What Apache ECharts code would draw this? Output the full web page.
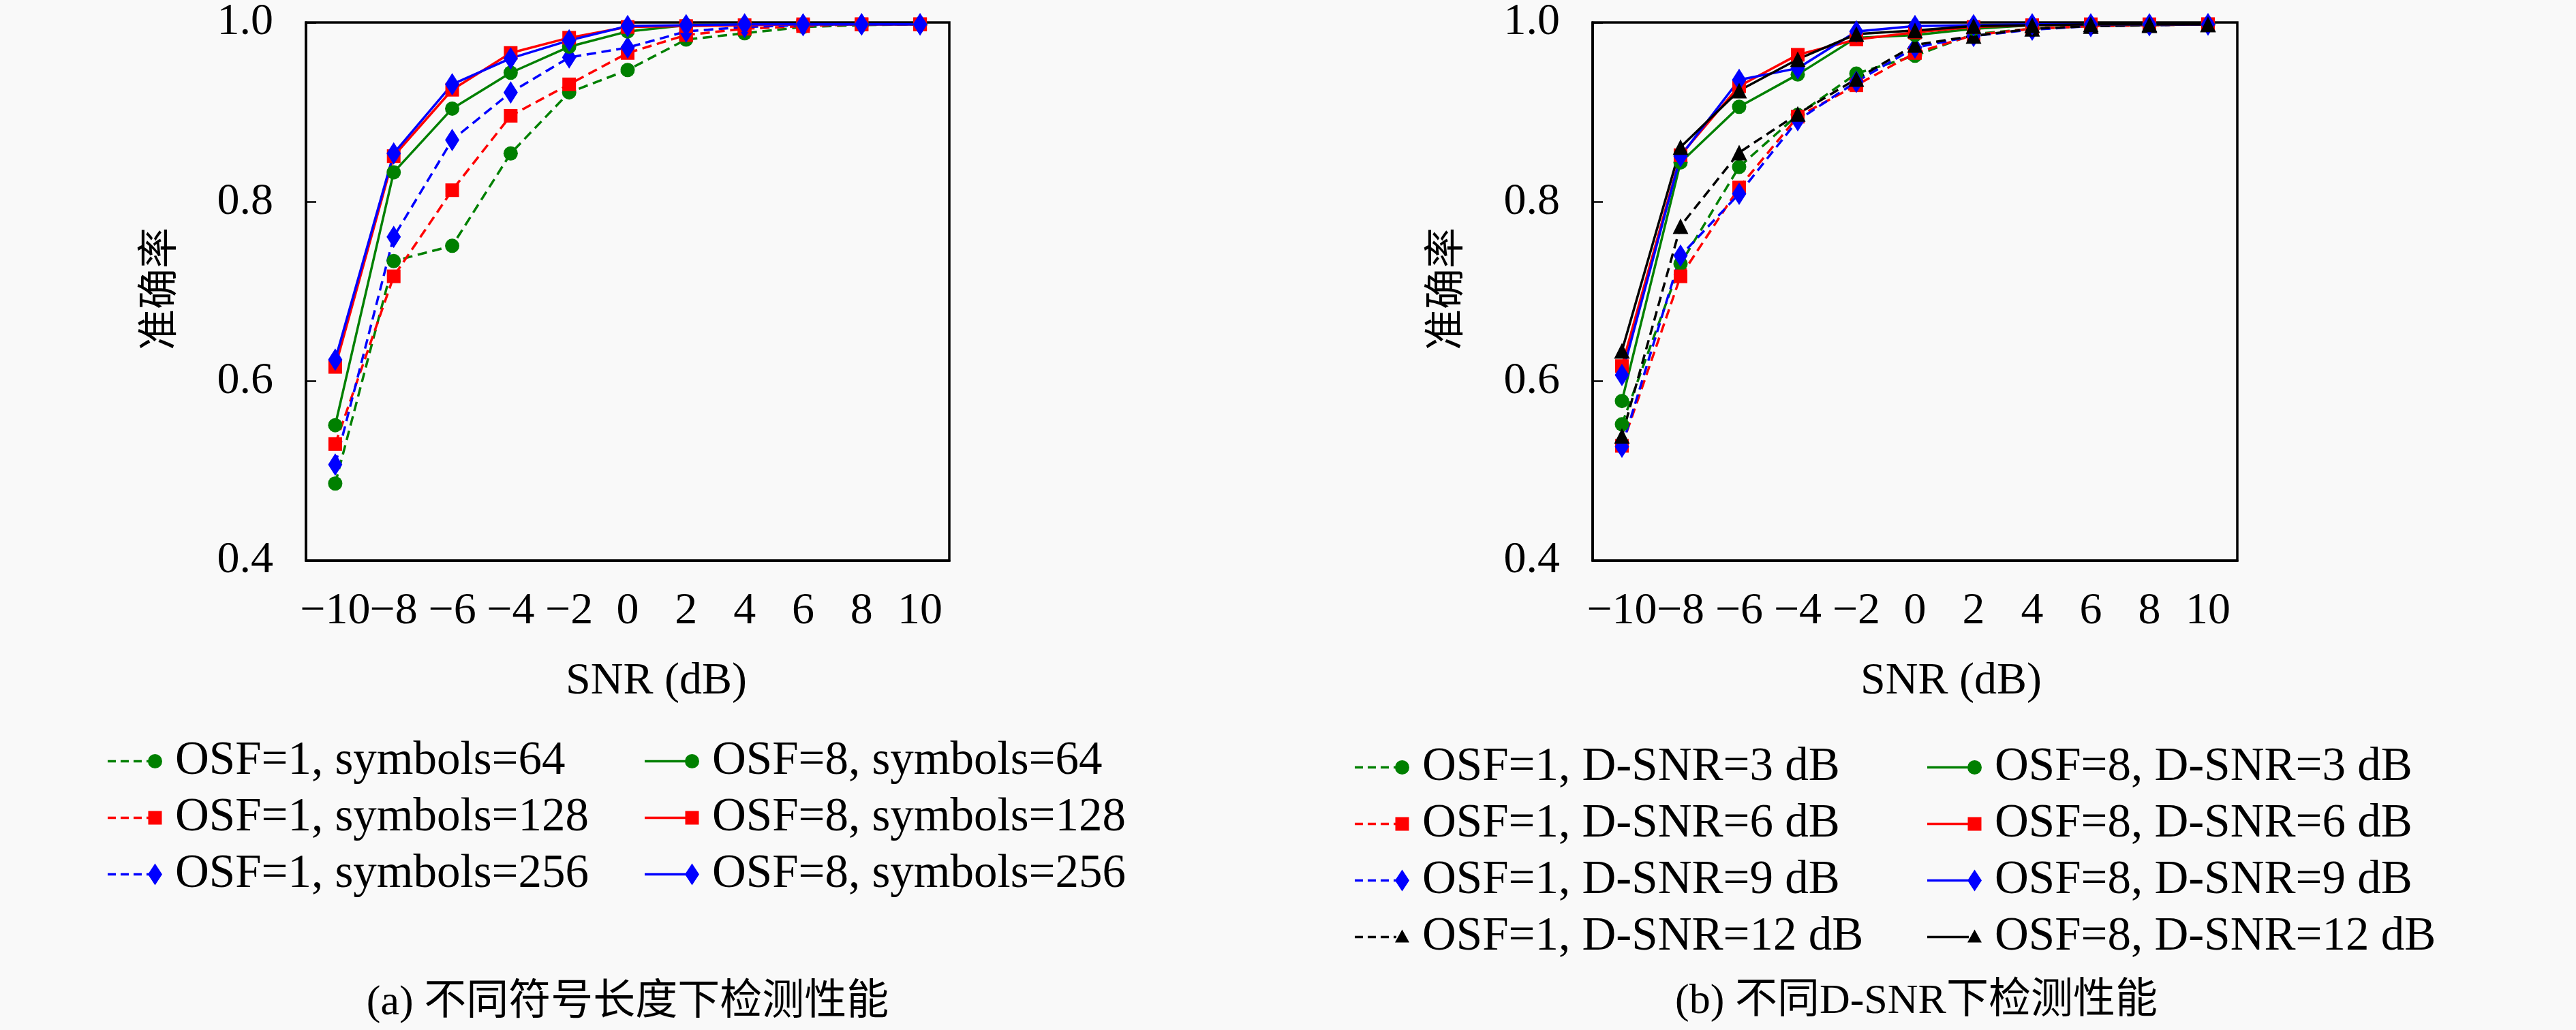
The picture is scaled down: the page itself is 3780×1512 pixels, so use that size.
<!DOCTYPE html>
<html>
<head>
<meta charset="utf-8">
<script src="https://cdn.jsdelivr.net/npm/echarts@6/dist/echarts.min.js"></script>
<style>
  html, body { margin: 0; padding: 0; background: #f9f9f9; }
  #main { width: 3780px; height: 1512px; }
</style>
</head>
<body>
<div id="main"></div>
<script>
//横轴 SNR 刻度
var snrLabels = ['\u221210', '\u22128', '\u22126', '\u22124', '\u22122', '0', '2', '4', '6', '8', '10'];
var yTicks = [0.4, 0.6, 0.8, 1.0];

//(a) 不同符号长度
var a_osf1_64  = [0.486, 0.734, 0.751, 0.854, 0.922, 0.947, 0.981, 0.988, 0.995, 0.997, 0.998];
var a_osf1_128 = [0.530, 0.717, 0.813, 0.896, 0.931, 0.966, 0.986, 0.993, 0.996, 0.998, 0.998];
var a_osf1_256 = [0.507, 0.761, 0.869, 0.922, 0.961, 0.972, 0.990, 0.995, 0.997, 0.998, 0.998];
var a_osf8_64  = [0.551, 0.833, 0.904, 0.944, 0.973, 0.990, 0.997, 0.998, 0.998, 0.998, 0.998];
var a_osf8_128 = [0.616, 0.851, 0.925, 0.966, 0.983, 0.995, 0.996, 0.997, 0.998, 0.998, 0.998];
var a_osf8_256 = [0.624, 0.854, 0.931, 0.960, 0.980, 0.996, 0.997, 0.998, 0.998, 0.998, 0.998];

//(b) 不同 D-SNR
var b_osf1_3  = [0.552, 0.731, 0.839, 0.897, 0.943, 0.963, 0.987, 0.993, 0.996, 0.997, 0.998];
var b_osf1_6  = [0.528, 0.717, 0.816, 0.895, 0.930, 0.966, 0.986, 0.993, 0.996, 0.997, 0.998];
var b_osf1_9  = [0.527, 0.740, 0.809, 0.891, 0.934, 0.972, 0.985, 0.992, 0.996, 0.997, 0.998];
var b_osf1_12 = [0.539, 0.773, 0.855, 0.898, 0.937, 0.975, 0.985, 0.993, 0.996, 0.997, 0.998];
var b_osf8_3  = [0.578, 0.844, 0.906, 0.942, 0.983, 0.986, 0.993, 0.997, 0.998, 0.998, 0.998];
var b_osf8_6  = [0.617, 0.852, 0.929, 0.964, 0.981, 0.989, 0.995, 0.997, 0.998, 0.998, 0.998];
var b_osf8_9  = [0.607, 0.851, 0.936, 0.949, 0.990, 0.996, 0.997, 0.998, 0.998, 0.998, 0.998];
var b_osf8_12 = [0.634, 0.861, 0.924, 0.959, 0.987, 0.991, 0.996, 0.997, 0.998, 0.998, 0.998];

var SERIF = '"Liberation Serif", "DejaVu Serif", serif';
var CJK = '"Liberation Serif", "Noto Sans CJK SC", serif';
var FS = 66;
var LFS = 69;
var DASH = [14, 8];

var symbols = {
    circle:   {symbol: 'circle',   size: 21},
    square:   {symbol: 'rect',     size: 20},
    diamond:  {symbol: 'diamond',  size: [21, 33]},
    triangle: {symbol: 'triangle', size: 23}
};

//图例图标: 线段在左, 标记在右端 (80 x 32 的框)
var ICON_BOX = 'M0 0L0 0Z M80 32L80 32Z ';
var ICON_LINE = {
    dashed: 'M0 14.25L12 14.25L12 17.75L0 17.75Z M19 14.25L31 14.25L31 17.75L19 17.75Z M38 14.25L50 14.25L50 17.75L38 17.75Z M57 14.25L61 14.25L61 17.75L57 17.75Z ',
    solid:  'M0 14.25L61 14.25L61 17.75L0 17.75Z '
};
var ICON_MARK = {
    circle:   'M59 16A10.5 10.5 0 1 1 80 16A10.5 10.5 0 1 1 59 16Z',
    square:   'M59.5 6L79.5 6L79.5 26L59.5 26Z',
    diamond:  'M69.5 0L80 16L69.5 32L59 16Z',
    triangle: 'M69.5 5L80 24L59 24Z'
};

function legendIcon(dashed, mark) {
    return 'path://' + ICON_BOX + ICON_LINE[dashed ? 'dashed' : 'solid'] + ICON_MARK[mark];
}

//生成一条曲线
function mkLine(name, data, color, dashed, mark, idx) {
    return {
        name: name,
        type: 'line',
        xAxisIndex: idx,
        yAxisIndex: idx,
        data: data,
        symbol: symbols[mark].symbol,
        symbolSize: symbols[mark].size,
        showAllSymbol: true,
        animation: false,
        itemStyle: { color: color },
        lineStyle: { color: color, width: 3.5, type: dashed ? DASH : 'solid' }
    };
}

function mkXAxis(idx) {
    return {
        type: 'category',
        gridIndex: idx,
        data: snrLabels,
        boundaryGap: true,
        axisLine: { lineStyle: { color: '#000', width: 3.5 } },
        axisTick: { inside: true, alignWithLabel: true, interval: 0, length: 15, lineStyle: { color: '#000', width: 2.5 } },
        axisLabel: { color: '#000', fontFamily: SERIF, fontSize: FS, margin: 42, interval: 0, hideOverlap: false },
        splitLine: { show: false }
    };
}

function mkYAxis(idx) {
    return {
        type: 'value',
        gridIndex: idx,
        min: yTicks[0],
        max: yTicks[yTicks.length - 1],
        interval: 0.2,
        axisLine: { show: true, lineStyle: { color: '#000', width: 3.5 } },
        axisTick: { show: true, inside: true, length: 15, lineStyle: { color: '#000', width: 2.5 } },
        axisLabel: {
            color: '#000', fontFamily: SERIF, fontSize: FS, margin: 48,
            formatter: function (v) { return v.toFixed(1); }
        },
        splitLine: { show: false }
    };
}

function mkLegend(left, top, items) {
    return {
        orient: 'vertical',
        left: left,
        top: top,
        padding: 0,
        itemGap: 14,
        itemWidth: 80,
        itemHeight: 32,
        data: items,
        selectedMode: false,
        itemStyle: { borderWidth: 0 },
        textStyle: { color: '#000', fontFamily: SERIF, fontSize: LFS, lineHeight: 66, padding: [0, 0, 0, 14] }
    };
}

function txt(x, y, s, size, rot) {
    return {
        type: 'text',
        x: x,
        y: y,
        rotation: rot || 0,
        style: {
            text: s,
            fill: '#000',
            font: size + 'px ' + CJK,
            textAlign: 'center',
            textVerticalAlign: 'middle'
        }
    };
}

var GREEN = '#008000', RED = '#ff0000', BLUE = '#0000ff', BLACK = '#000000';

var aNames = ['OSF=1, symbols=64', 'OSF=1, symbols=128', 'OSF=1, symbols=256',
              'OSF=8, symbols=64', 'OSF=8, symbols=128', 'OSF=8, symbols=256'];
var bNames = ['OSF=1, D-SNR=3 dB', 'OSF=1, D-SNR=6 dB', 'OSF=1, D-SNR=9 dB', 'OSF=1, D-SNR=12 dB',
              'OSF=8, D-SNR=3 dB', 'OSF=8, D-SNR=6 dB', 'OSF=8, D-SNR=9 dB', 'OSF=8, D-SNR=12 dB'];
var aMarks = ['circle', 'square', 'diamond'];
var bMarks = ['circle', 'square', 'diamond', 'triangle'];

function legendItems(names, marks, dashed) {
    var out = [];
    for (var i = 0; i < names.length; i++) {
        out.push({ name: names[i], icon: legendIcon(dashed, marks[i]) });
    }
    return out;
}

var series = [
    mkLine(aNames[0], a_osf1_64,  GREEN, true,  'circle',  0),
    mkLine(aNames[1], a_osf1_128, RED,   true,  'square',  0),
    mkLine(aNames[2], a_osf1_256, BLUE,  true,  'diamond', 0),
    mkLine(aNames[3], a_osf8_64,  GREEN, false, 'circle',  0),
    mkLine(aNames[4], a_osf8_128, RED,   false, 'square',  0),
    mkLine(aNames[5], a_osf8_256, BLUE,  false, 'diamond', 0),

    mkLine(bNames[0], b_osf1_3,  GREEN, true,  'circle',   1),
    mkLine(bNames[1], b_osf1_6,  RED,   true,  'square',   1),
    mkLine(bNames[2], b_osf1_9,  BLUE,  true,  'diamond',  1),
    mkLine(bNames[3], b_osf1_12, BLACK, true,  'triangle', 1),
    mkLine(bNames[4], b_osf8_3,  GREEN, false, 'circle',   1),
    mkLine(bNames[5], b_osf8_6,  RED,   false, 'square',   1),
    mkLine(bNames[6], b_osf8_9,  BLUE,  false, 'diamond',  1),
    mkLine(bNames[7], b_osf8_12, BLACK, false, 'triangle', 1)
];

var myChart = echarts.init(document.getElementById('main'));
var option = {
    backgroundColor: '#f9f9f9',
    animation: false,
    grid: [
        { left: 449,  top: 22, width: 944, height: 801, show: true, borderColor: '#000', borderWidth: 3.5, backgroundColor: 'transparent' },
        { left: 2337, top: 22, width: 946, height: 801, show: true, borderColor: '#000', borderWidth: 3.5, backgroundColor: 'transparent' }
    ],
    xAxis: [mkXAxis(0), mkXAxis(1)],
    yAxis: [mkYAxis(0), mkYAxis(1)],
    legend: [
        mkLegend(158,  1083, legendItems(aNames.slice(0, 3), aMarks, true)),
        mkLegend(946,  1083, legendItems(aNames.slice(3, 6), aMarks, false)),
        mkLegend(1988, 1092, legendItems(bNames.slice(0, 4), bMarks, true)),
        mkLegend(2828, 1092, legendItems(bNames.slice(4, 8), bMarks, false))
    ],
    graphic: [
        txt(963,  1001, 'SNR (dB)', FS),
        txt(2863, 1001, 'SNR (dB)', FS),
        txt(237,  424, '准确率', 60, Math.PI / 2),
        txt(2125, 424, '准确率', 60, Math.PI / 2),
        txt(921,  1473, '(a) 不同符号长度下检测性能', 62),
        txt(2812, 1471, '(b) 不同D-SNR下检测性能', 62)
    ],
    series: series
};
myChart.setOption(option);
</script>
</body>
</html>
